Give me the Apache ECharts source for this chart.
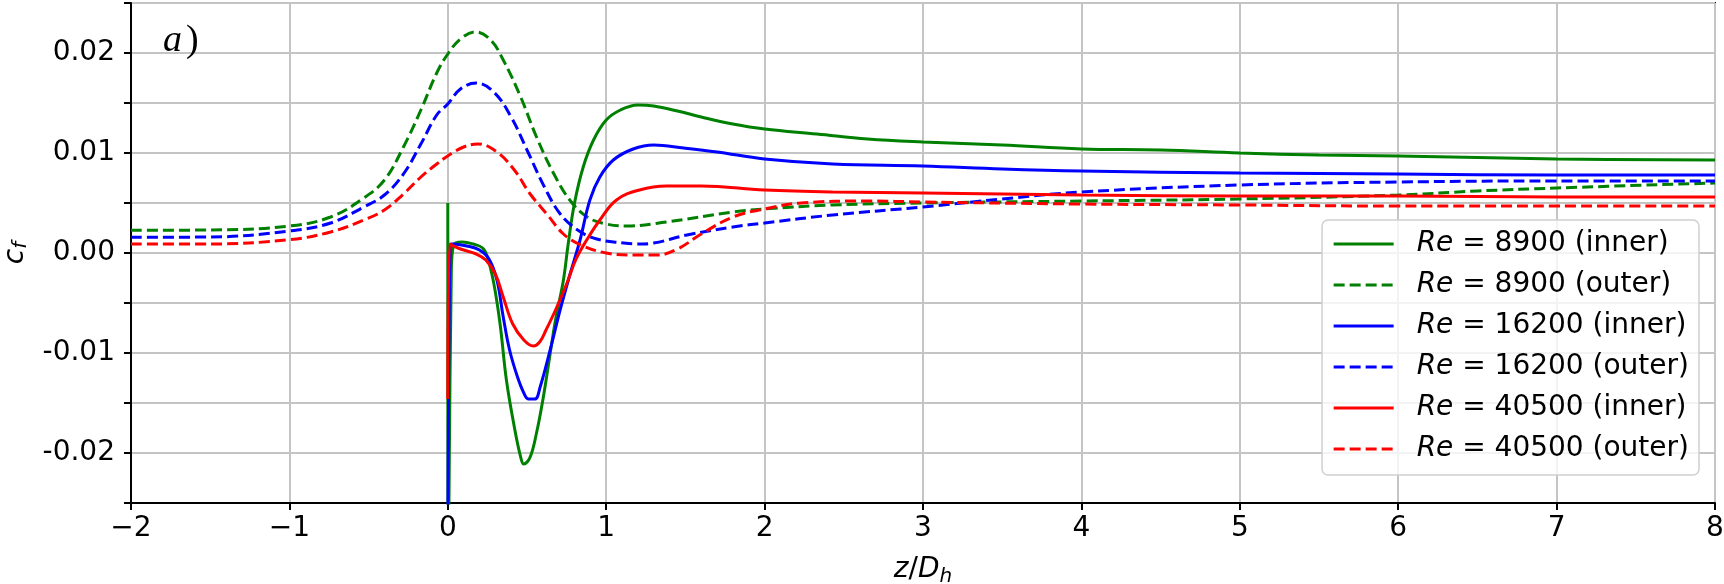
<!DOCTYPE html>
<html>
<head>
<meta charset="utf-8">
<script src="https://cdn.jsdelivr.net/npm/echarts@6/dist/echarts.min.js"></script>
<style>
html,body{margin:0;padding:0;background:#fff;}
#c{width:1724px;height:584px;}
</style>
</head>
<body>
<div id="c"></div>
<script>
// ---- data: [z/D_h, c_f] ----
const inner8900 = [[0,0.005],[0.002,-0.035],[0.022,-0.002],[0.037,0.0008],[0.09,0.0011],[0.16,0.0009],[0.22,0.0005],[0.25,-0.0004],[0.29,-0.003],[0.33,-0.0071],[0.37,-0.0127],[0.42,-0.0174],[0.46,-0.0204],[0.48,-0.0211],[0.52,-0.0204],[0.56,-0.018],[0.60,-0.0147],[0.64,-0.0107],[0.68,-0.0067],[0.73,-0.0027],[0.76,0.0009],[0.80,0.005],[0.855,0.0086],[0.92,0.0113],[1.0,0.0133],[1.09,0.0143],[1.2,0.0148],[1.3,0.0147],[1.45,0.0142],[1.6,0.0136],[1.8,0.0129],[2.0,0.0124],[2.33,0.0119],[2.65,0.0114],[3.0,0.0111],[3.5,0.0108],[4,0.0104],[4.5,0.0103],[5,0.0100],[5.5,0.0098],[6,0.0097],[7,0.0094],[8,0.0093]];
const outer8900 = [[-2,0.00227],[-1.5,0.0023],[-1,0.0027],[-0.74,0.0036],[-0.53,0.0055],[-0.40,0.0073],[-0.28,0.0106],[-0.17,0.0143],[-0.07,0.018],[0,0.0199],[0.08,0.0214],[0.175,0.0221],[0.27,0.0213],[0.35,0.0193],[0.46,0.0156],[0.56,0.0116],[0.67,0.0079],[0.77,0.0053],[0.88,0.0036],[1.0,0.0029],[1.13,0.0027],[1.38,0.0031],[1.8,0.0041],[2.0,0.0044],[2.43,0.0048],[3.0,0.0050],[4,0.0052],[5,0.0054],[6,0.0058],[6.5,0.0062],[7,0.0065],[8,0.0070]];
const inner16200 = [[0,-0.03],[0.018,0.0009],[0.03,0.0009],[0.12,0.0007],[0.20,0.0003],[0.26,-0.0006],[0.31,-0.0027],[0.35,-0.0064],[0.39,-0.0097],[0.44,-0.0124],[0.48,-0.0140],[0.51,-0.0146],[0.55,-0.0146],[0.583,-0.0134],[0.646,-0.0097],[0.709,-0.0057],[0.772,-0.0021],[0.835,0.0013],[0.897,0.0053],[0.96,0.0076],[1.045,0.0093],[1.17,0.0104],[1.30,0.0108],[1.49,0.0105],[1.70,0.0101],[2.0,0.0094],[2.43,0.0089],[3.0,0.0087],[3.5,0.0084],[4,0.0082],[5,0.0080],[6,0.0079],[7,0.0078],[8,0.0078]];
const outer16200 = [[-2,0.00157],[-1.5,0.0016],[-1,0.0022],[-0.74,0.0030],[-0.53,0.0046],[-0.40,0.0058],[-0.28,0.0079],[-0.17,0.0109],[-0.07,0.0138],[0,0.0149],[0.08,0.0164],[0.18,0.0170],[0.29,0.0161],[0.40,0.0136],[0.50,0.0103],[0.61,0.0066],[0.71,0.0039],[0.82,0.0023],[0.94,0.0014],[1.11,0.0010],[1.2,0.0009],[1.30,0.0010],[1.51,0.0018],[1.8,0.0026],[2.0,0.0030],[2.43,0.0038],[3.0,0.0046],[3.5,0.0054],[4,0.0061],[5,0.0068],[6,0.0071],[7,0.0072],[8,0.0072]];
const inner40500 = [[0,-0.0146],[0.012,0.0009],[0.08,0.0004],[0.18,-0.0001],[0.24,-0.0007],[0.30,-0.0021],[0.35,-0.0044],[0.41,-0.0071],[0.48,-0.0087],[0.54,-0.0093],[0.58,-0.0089],[0.62,-0.0077],[0.68,-0.0057],[0.75,-0.0031],[0.81,-0.0006],[0.877,0.0013],[0.96,0.0033],[1.065,0.0053],[1.21,0.0063],[1.38,0.0067],[1.6,0.0067],[2.0,0.0063],[2.43,0.0061],[3.0,0.0060],[4,0.0058],[5,0.0057],[6,0.0057],[7,0.0056],[8,0.0056]];
const outer40500 = [[-2,0.0009],[-1.5,0.0009],[-1,0.00134],[-0.74,0.0021],[-0.53,0.0033],[-0.40,0.0043],[-0.28,0.0059],[-0.17,0.0076],[-0.07,0.0089],[0,0.0097],[0.1,0.0106],[0.19,0.0109],[0.31,0.0101],[0.42,0.0083],[0.52,0.0059],[0.63,0.0038],[0.73,0.0019],[0.84,0.0008],[1.0,0.0000],[1.17,-0.0002],[1.32,-0.0002],[1.45,0.0004],[1.60,0.0019],[1.80,0.0036],[2.0,0.0044],[2.23,0.0050],[2.65,0.0052],[3.0,0.0051],[4,0.0049],[5,0.0048],[6,0.0047],[7,0.0047],[8,0.0047]];

const seriesNames = ['Re = 8900 (inner)','Re = 8900 (outer)','Re = 16200 (inner)','Re = 16200 (outer)','Re = 40500 (inner)','Re = 40500 (outer)'];
const seriesData = [inner8900, outer8900, inner16200, outer16200, inner40500, outer40500];
const seriesColors = ['#008000','#008000','#0000ff','#0000ff','#ff0000','#ff0000'];
const seriesDashed = [false,true,false,true,false,true];

const FONT = 'DejaVu Sans';
const chart = echarts.init(document.getElementById('c'), null, {renderer:'canvas'});

const series = seriesData.map((d,i)=>({
  name: seriesNames[i],
  type: 'line',
  data: d,
  symbol: 'none',
  showSymbol: false,
  smooth: 0.4,
  animation: false,
  clip: true,
  lineStyle: {color: seriesColors[i], width: 3, type: seriesDashed[i] ? [11,5] : 'solid'},
  itemStyle: {color: seriesColors[i]}
}));

chart.setOption({
  animation: false,
  backgroundColor: '#ffffff',
  grid: {left: 131, right: 9, top: 3, bottom: 81, containLabel: false, outerBoundsMode: 'none',
         show: true, borderColor: '#000', borderWidth: 2, backgroundColor: 'transparent'},
  xAxis: {
    type: 'value', min: -2, max: 8, interval: 1,
    name: '{i|z}{n|/}{i|D}{s|h}',
    nameLocation: 'middle', nameGap: 50,
    nameTextStyle: {rich: {
      i: {fontFamily: FONT, fontStyle: 'italic', fontSize: 28, color:'#000'},
      n: {fontFamily: FONT, fontSize: 28, color:'#000'},
      s: {fontFamily: FONT, fontStyle: 'italic', fontSize: 20, color:'#000', verticalAlign:'bottom', padding:[14,0,0,0]}
    }},
    axisLine: {show: true, onZero: false, lineStyle: {color: '#000', width: 2}},
    axisTick: {show: true, length: 7, lineStyle: {color: '#000', width: 2}},
    axisLabel: {fontFamily: FONT, fontSize: 28, color: '#000', margin: 12,
      formatter: v => v < 0 ? '\u2212' + (-v) : String(v)},
    splitLine: {show: true, lineStyle: {color: '#c4c4c4', width: 2}}
  },
  yAxis: {
    type: 'value', min: -0.025, max: 0.025, interval: 0.005,
    name: '{i|c}{s|f}',
    nameLocation: 'middle', nameGap: 100, nameRotate: 90,
    nameTextStyle: {rich: {
      i: {fontFamily: FONT, fontStyle: 'italic', fontSize: 28, color:'#000'},
      s: {fontFamily: FONT, fontStyle: 'italic', fontSize: 20, color:'#000', padding:[10,0,0,0]}
    }},
    axisLine: {show: true, onZero: false, lineStyle: {color: '#000', width: 2}},
    axisTick: {show: true, length: 7, lineStyle: {color: '#000', width: 2}},
    axisLabel: {fontFamily: FONT, fontSize: 28, color: '#000', margin: 16,
      formatter: v => {
        const k = Math.round(v * 200);
        if (Math.abs(k) % 2 === 1) return '';
        return (k / 200).toFixed(2);
      }},
    splitLine: {show: true, lineStyle: {color: '#c4c4c4', width: 2}}
  },
  legend: {
    show: true,
    orient: 'vertical',
    right: 25, top: 220,
    itemWidth: 60, itemHeight: 30, itemGap: 13,
    padding: [10, 10, 12, 10],
    backgroundColor: 'rgba(255,255,255,0.8)',
    borderColor: '#d0d0d0', borderWidth: 1.5, borderRadius: 6,
    data: seriesNames,
    formatter: name => '{i|Re}{n| ' + name.replace('Re ', '') + '}',
    textStyle: {padding: [0,0,0,18], rich: {
      i: {fontFamily: FONT, fontStyle: 'italic', fontSize: 28, color:'#000'},
      n: {fontFamily: FONT, fontSize: 28, color:'#000'}
    }},
    itemStyle: {color: 'rgba(0,0,0,0)', borderColor: 'rgba(0,0,0,0)', borderWidth: 0, opacity: 0},
    lineStyle: {width: 3.2}
  },
  graphic: [{
    type: 'text', left: 163, top: 22, z: 10,
    style: {text: '{a|a}{p|)}', rich: {
      a: {fontFamily: 'Liberation Serif', fontStyle: 'italic', fontSize: 38, fill:'#000'},
      p: {fontFamily: 'Liberation Serif', fontSize: 38, fill:'#000', padding:[0,0,0,4]}
    }}
  }],
  series: series
});
</script>
</body>
</html>
